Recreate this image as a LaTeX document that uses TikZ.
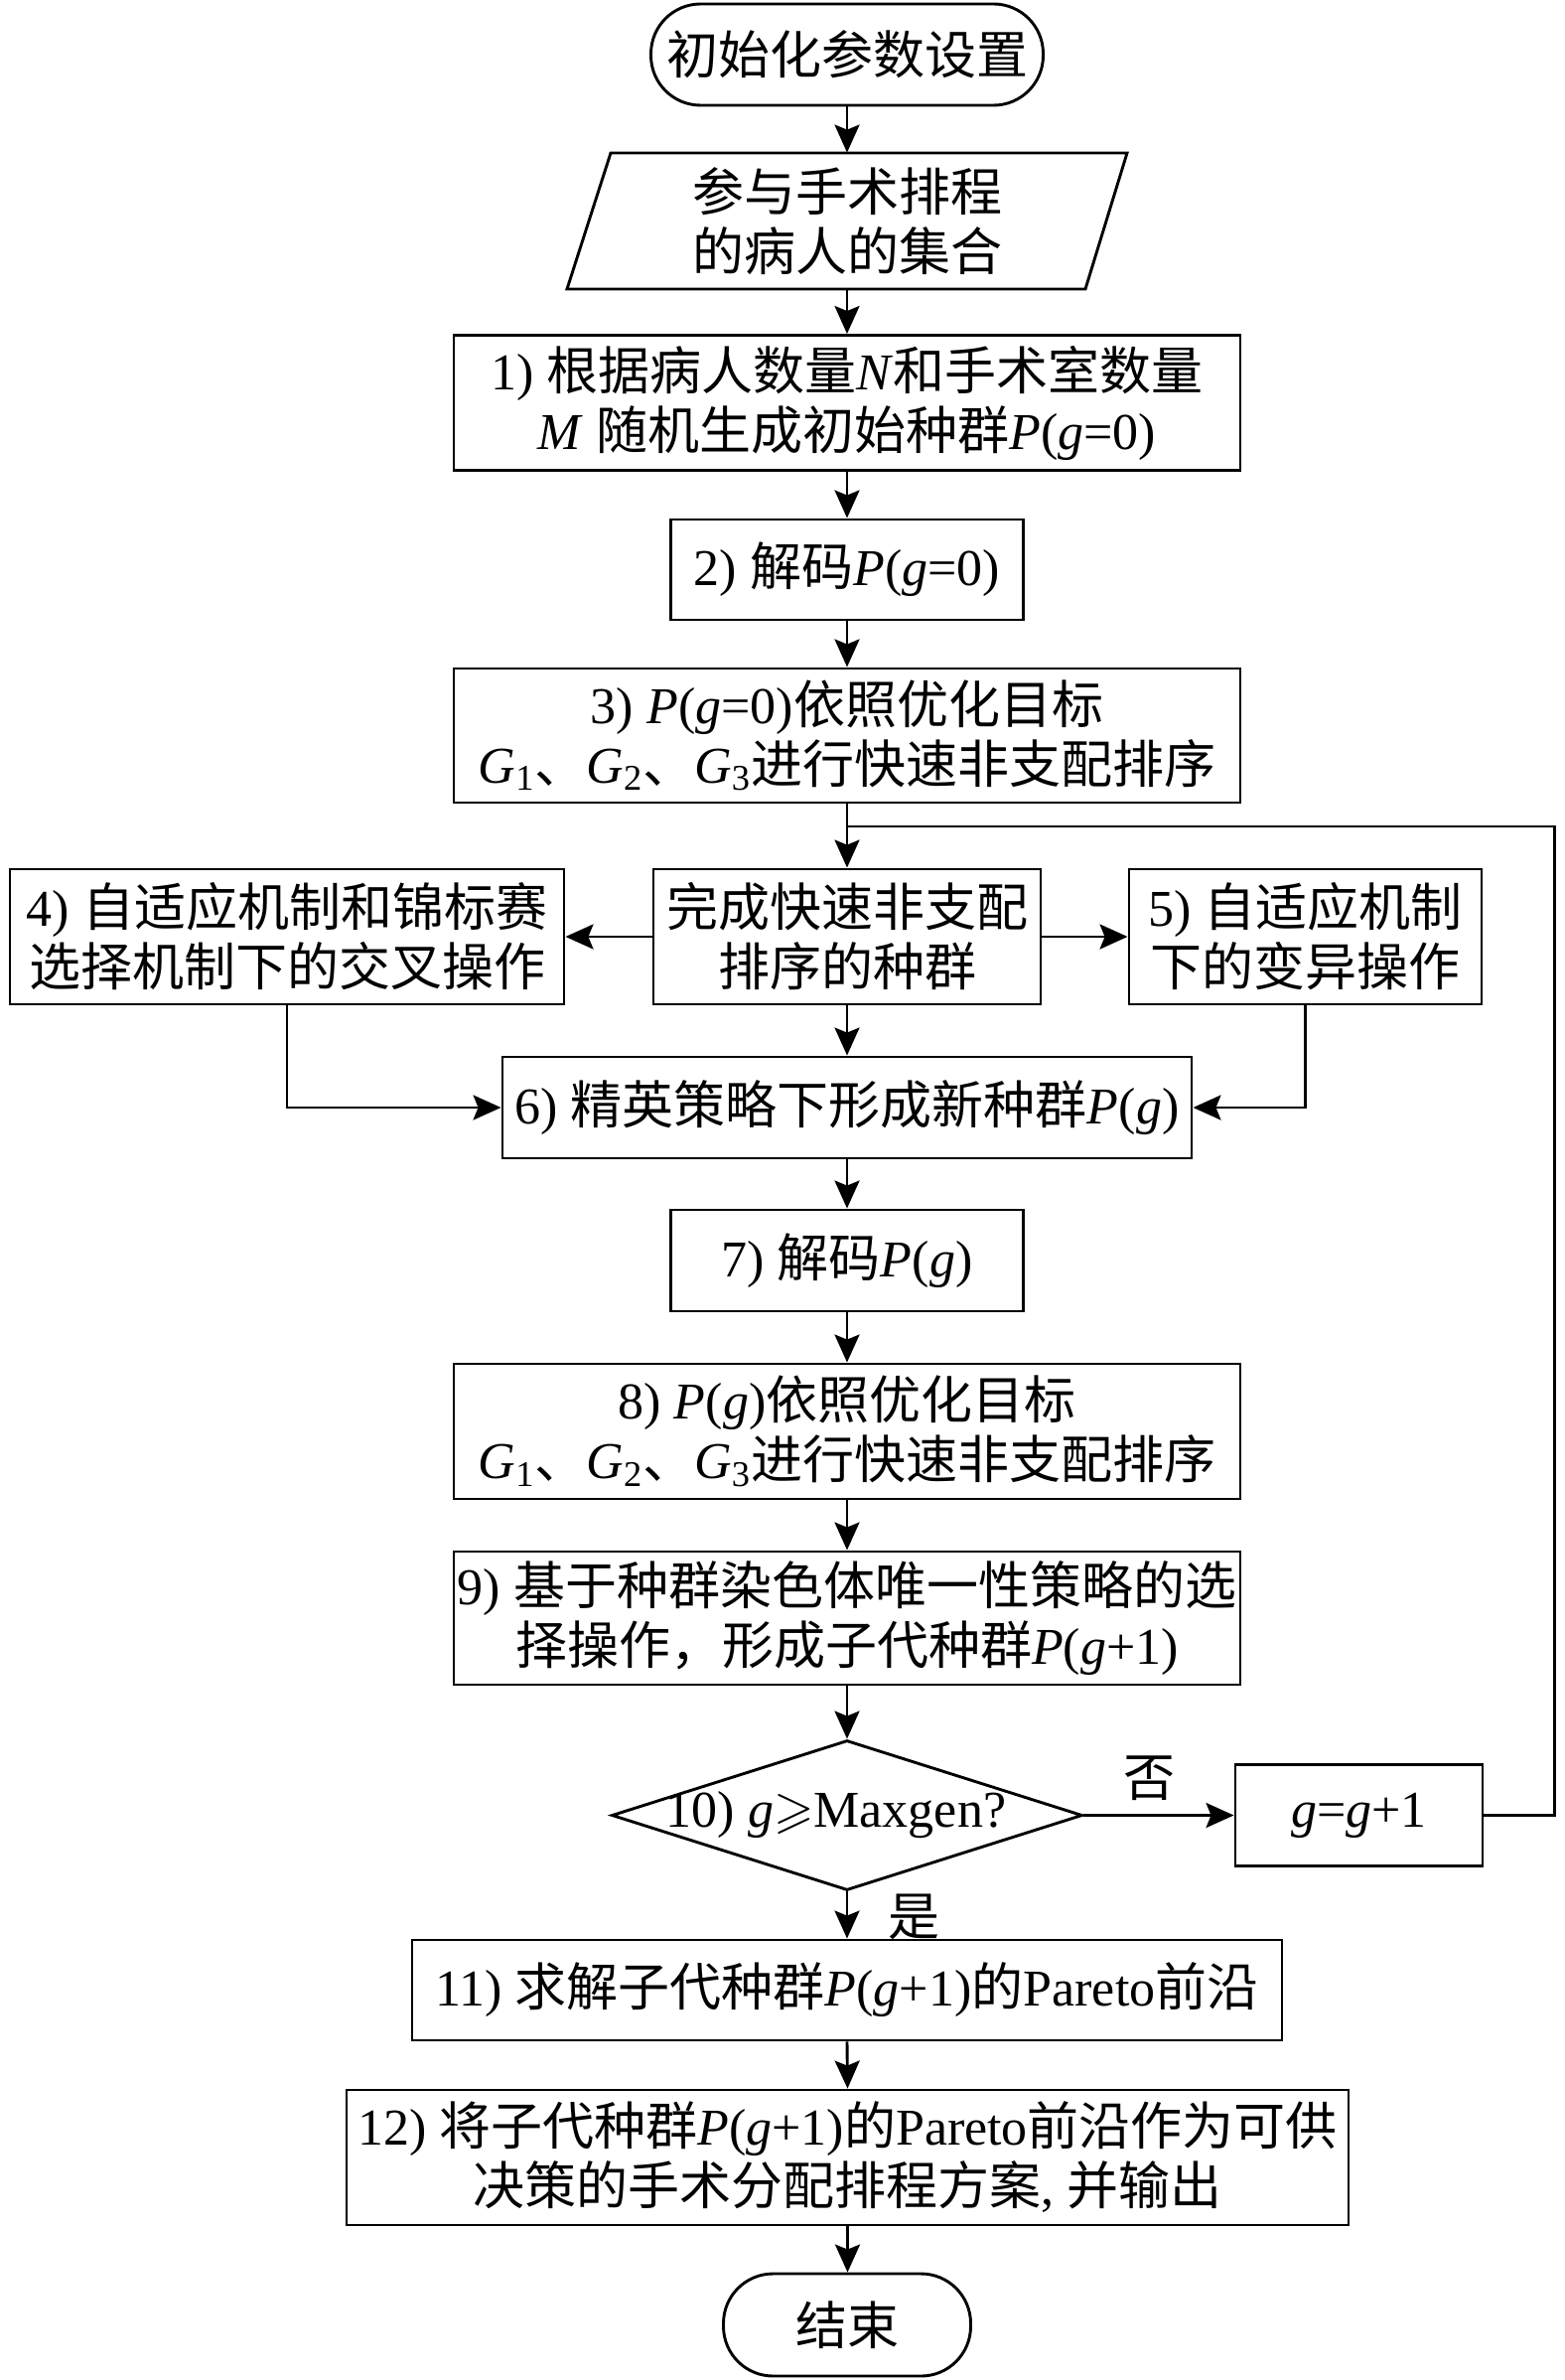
\documentclass[tikz,border=0pt]{standalone}
\usepackage{amssymb}
\usepackage{fontspec}
\setmainfont{Liberation Serif}
\newfontfamily\cjk{Noto Sans CJK SC}
\newcommand\z[1]{{\cjk #1}}
\usetikzlibrary{arrows.meta,shapes.geometric}
\begin{document}
\begin{tikzpicture}[x=0.5pt,y=-0.5pt,
  lw/.style={line width=1.45pt},
  txt/.style={font=\fontsize{26pt}{30pt}\selectfont},
  box/.style={lw,draw,rectangle,inner sep=0pt,align=center,txt},
  term/.style={box,rounded corners=25pt},
  arr/.style={lw,-{Stealth[length=14pt,width=12.5pt,inset=2.5pt]}},
  conn/.style={lw}]
\useasboundingbox (0,0) rectangle (1575,2396);

\node[term,minimum width=197.5pt,minimum height=51pt] (start) at (853,55) {\z{初始化参数设置}};

\node[inner sep=0pt,align=center,txt,minimum width=240pt,minimum height=68.5pt] (para) at (853,222.5) {\z{参与手术排程}\\\z{的病人的集合}};
\draw[lw] (615,154) -- (1135,154) -- (1093,291) -- (571,291) -- cycle;

\node[box,minimum width=396pt,minimum height=68pt] (b1) at (853,405.5)
  {1) \z{根据病人数量}\textit{N}\z{和手术室数量}\\\textit{M} \z{随机生成初始种群}\textit{P}(\textit{g}=0)};
\node[box,minimum width=177.5pt,minimum height=50.5pt] (b2) at (853,573.5)
  {2) \z{解码}\textit{P}(\textit{g}=0)};
\node[box,minimum width=396pt,minimum height=67.5pt] (b3) at (853,740.5)
  {3) \textit{P}(\textit{g}=0)\z{依照优化目标}\\\textit{G}\textsubscript{1}\z{、}\textit{G}\textsubscript{2}\z{、}\textit{G}\textsubscript{3}\z{进行快速非支配排序}};

\coordinate (join) at (853,832);

\node[box,minimum width=195pt,minimum height=68pt] (bc) at (853,943)
  {\z{完成快速非支配}\\\z{排序的种群}};
\node[box,minimum width=279pt,minimum height=68pt] (b4) at (289,943)
  {4) \z{自适应机制和锦标赛}\\\z{选择机制下的交叉操作}};
\node[box,minimum width=177.5pt,minimum height=68pt] (b5) at (1314.5,943)
  {5) \z{自适应机制}\\\z{下的变异操作}};

\node[box,minimum width=347pt,minimum height=51pt] (b6) at (853,1115)
  {6) \z{精英策略下形成新种群}\textit{P}(\textit{g})};
\node[box,minimum width=177.5pt,minimum height=51pt] (b7) at (853,1269)
  {7) \z{解码}\textit{P}(\textit{g})};
\node[box,minimum width=396pt,minimum height=68pt] (b8) at (853,1441)
  {8) \textit{P}(\textit{g})\z{依照优化目标}\\\textit{G}\textsubscript{1}\z{、}\textit{G}\textsubscript{2}\z{、}\textit{G}\textsubscript{3}\z{进行快速非支配排序}};
\node[box,minimum width=396pt,minimum height=67pt] (b9) at (853,1629)
  {9) \z{基于种群染色体唯一性策略的选}\\\z{择操作，形成子代种群}\textit{P}(\textit{g}+1)};

\node[diamond,lw,draw,inner sep=0pt,minimum width=237pt,minimum height=75.5pt] (dec) at (853,1827.5) {};
\node[txt,inner sep=0pt] (dectxt) at (842,1827.5) {10) \textit{g}$\geqslant$Maxgen?};

\node[box,minimum width=124.5pt,minimum height=51pt] (bg) at (1368.5,1827.5)
  {\textit{g}=\textit{g}+1};

\node[box,minimum width=438pt,minimum height=50.5pt] (b11) at (853,2003.5)
  {11) \z{求解子代种群}\textit{P}(\textit{g}+1)\z{的}Pareto\z{前沿}};
\node[box,minimum width=504.5pt,minimum height=68pt] (b12) at (853.5,2172)
  {12) \z{将子代种群}\textit{P}(\textit{g}+1)\z{的}Pareto\z{前沿作为可供}\\\z{决策的手术分配排程方案}, \z{并输出}};
\node[term,minimum width=124.5pt,minimum height=51.5pt] (end) at (853,2340.5) {\z{结束}};

\node[txt,inner sep=0pt] (no) at (1157,1790) {\z{否}};
\node[txt,inner sep=0pt] (yes) at (920,1930) {\z{是}};

\draw[arr] (start.south) -- (para.north);
\draw[arr] (para.south) -- (b1.north);
\draw[arr] (b1.south) -- (b2.north);
\draw[arr] (b2.south) -- (b3.north);
\draw[arr] (b3.south) -- (bc.north);
\draw[arr] (bc.west) -- (b4.east);
\draw[arr] (bc.east) -- (b5.west);
\draw[arr] (bc.south) -- (b6.north);
\draw[arr] (b4.south) |- (b6.west);
\draw[arr] (b5.south) |- (b6.east);
\draw[arr] (b6.south) -- (b7.north);
\draw[arr] (b7.south) -- (b8.north);
\draw[arr] (b8.south) -- (b9.north);
\draw[arr] (b9.south) -- (dec.north);
\draw[arr] (dec.east) -- (bg.west);
\draw[arr] (dec.south) -- (b11.north);
\draw[arr] (b11.south) -- (b12.north);
\draw[arr] (b12.south) -- (b12.south |- end.north);
\draw[conn] (bg.east) -- ++(71,0) |- (join);
\end{tikzpicture}
\end{document}
